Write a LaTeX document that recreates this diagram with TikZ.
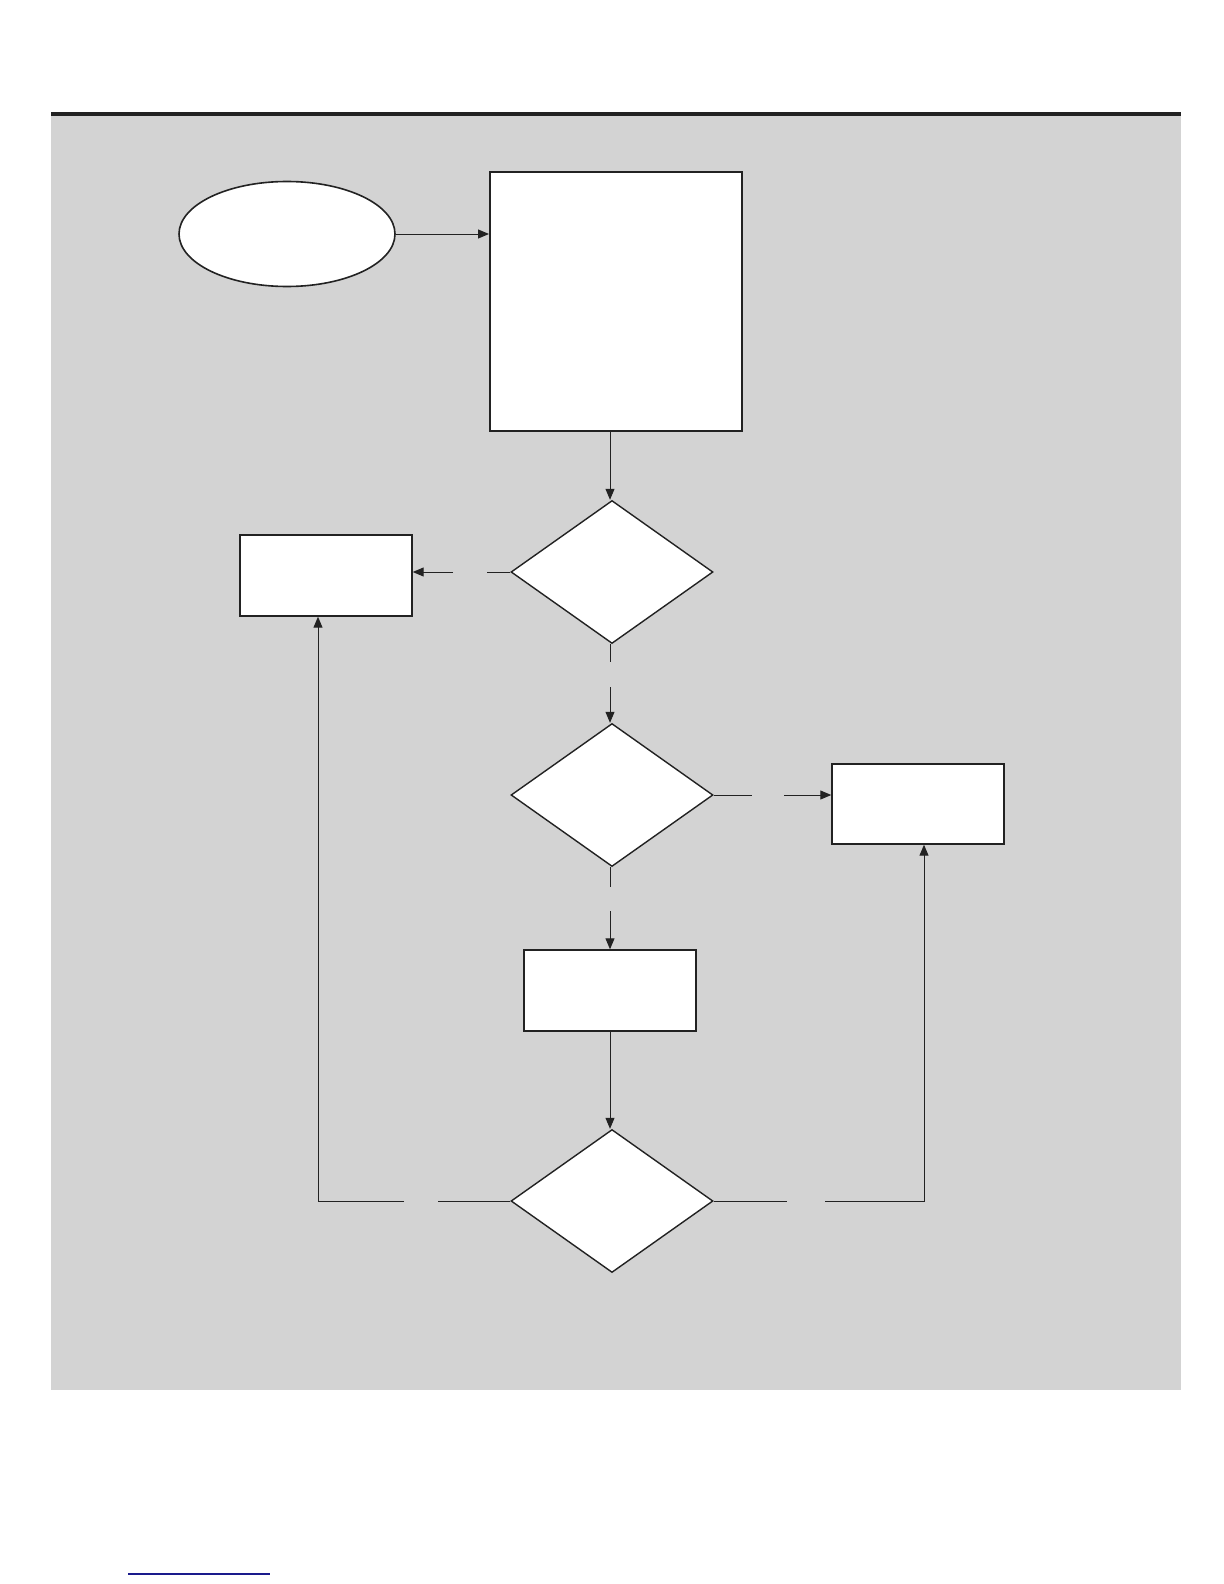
\documentclass[tikz,border=0pt]{standalone}
\usetikzlibrary{shapes.geometric,arrows.meta}
\definecolor{panel}{HTML}{D3D3D3}
\definecolor{ink}{HTML}{222222}
\definecolor{linkblue}{HTML}{1A1A8C}
\begin{document}
\begin{tikzpicture}[x=0.5pt,y=-0.5pt,
  box/.style={draw=ink,fill=white,line width=0.7pt,inner sep=0pt,rectangle},
  bigbox/.style={draw=ink,fill=white,line width=1pt,inner sep=0pt,rectangle},
  oval/.style={draw=ink,fill=white,line width=0.8pt,inner sep=0pt,ellipse},
  choice/.style={draw=ink,fill=white,line width=0.7pt,inner sep=0pt,diamond,minimum width=101pt,minimum height=71.5pt},
  conn/.style={draw=ink,line width=0.5pt},
  arr/.style={conn,-{Triangle[length=5.5pt,width=4.5pt]}}]
\useasboundingbox (0,0) rectangle (1224,1584);
\fill[white] (0,0) rectangle (1224,1584);
\fill[panel] (51,113) rectangle (1181,1390);
\draw[ink,line width=2pt] (51,114) -- (1181,114);
% nodes
\node[oval,minimum width=108pt,minimum height=52.5pt] (start) at (287,234) {};
\node[bigbox,minimum width=126pt,minimum height=129.5pt] (main) at (616,301.5) {};
\node[choice] (d1) at (612,572) {};
\node[box,minimum width=86pt,minimum height=40.5pt] (b1) at (326,575.5) {};
\node[choice] (d2) at (612,795) {};
\node[box,minimum width=86pt,minimum height=40pt] (b2) at (918,804) {};
\node[box,minimum width=86pt,minimum height=40.5pt] (b3) at (610,990.5) {};
\node[choice] (d3) at (612,1201) {};
% gap coordinates
\coordinate (g1a) at (487,572); \coordinate (g1b) at (453,572);
\coordinate (g2a) at (610,662); \coordinate (g2b) at (610,687);
\coordinate (g3a) at (752,795); \coordinate (g3b) at (784,795);
\coordinate (g4a) at (610,887); \coordinate (g4b) at (610,911);
\coordinate (g5a) at (438,1201); \coordinate (g5b) at (404,1201);
\coordinate (g6a) at (787,1201); \coordinate (g6b) at (825,1201);
\coordinate (lc) at (318,1201);
\coordinate (rc) at (924,1201);
% connectors
\draw[arr] (start.east) -- (start.east -| main.west);
\draw[arr] (610,431) -- (610,572 |- d1.north);
\draw[conn] (d1.west) -- (g1a);
\draw[arr] (g1b) -- (g1b -| b1.east);
\draw[conn] (d1.south -| g2a) -- (g2a);
\draw[arr] (g2b) -- (g2b |- d2.north);
\draw[conn] (d2.east) -- (g3a);
\draw[arr] (g3b) -- (g3b -| b2.west);
\draw[conn] (d2.south -| g4a) -- (g4a);
\draw[arr] (g4b) -- (b3.north);
\draw[arr] (b3.south) -- (b3.south |- d3.north);
\draw[conn] (d3.west) -- (g5a);
\draw[arr] (g5b) -- (lc) -- (lc |- b1.south);
\draw[conn] (d3.east) -- (g6a);
\draw[arr] (g6b) -- (rc) -- (rc |- b2.south);
% bottom link underline
\draw[linkblue,line width=0.6pt] (128,1574) -- (270,1574);
\end{tikzpicture}
\end{document}
